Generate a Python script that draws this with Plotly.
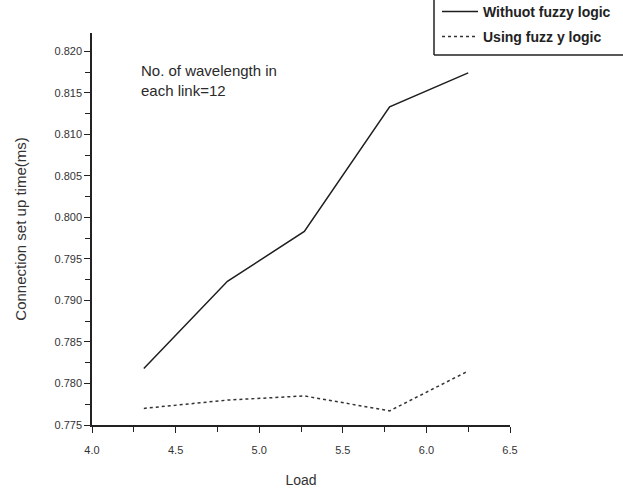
import plotly.graph_objects as go

load = [4.31, 4.81, 5.27, 5.78, 6.25]
without_fuzzy = [0.7818, 0.7923, 0.7983, 0.8133, 0.8174]
using_fuzzy = [0.7770, 0.7780, 0.7785, 0.7767, 0.7815]

x_ticks = [4.0, 4.5, 5.0, 5.5, 6.0, 6.5]
y_ticks = [0.775, 0.780, 0.785, 0.790, 0.795, 0.800, 0.805, 0.810, 0.815, 0.820]

fig = go.Figure()
fig.add_trace(go.Scatter(x=load, y=without_fuzzy, mode="lines", name="<b>Withuot fuzzy logic</b>",
                         line=dict(color="#1e1e1e", width=1.5), legend="legend"))
fig.add_trace(go.Scatter(x=load, y=using_fuzzy, mode="lines", name="<b>Using fuzz y logic</b>",
                         line=dict(color="#333333", width=1.5, dash="dot"), legend="legend2"))

W, H = 623, 488
L, R, T, B = 92, 113, 33, 63
pw, ph = W - L - R, H - T - B

def px(xp):
    return (xp - L) / pw

def py(yp):
    return (H - B - yp) / ph

tickfont = dict(family="Liberation Sans, Arial", size=11, color="#333333")
legfont = dict(family="Liberation Sans, Arial", size=14, color="#222222")

fig.update_layout(
    width=W, height=H,
    margin=dict(l=L, r=R, t=T, b=B, autoexpand=False),
    paper_bgcolor="white", plot_bgcolor="white",
    showlegend=True,
    legend=dict(x=px(437), y=py(-4), xanchor="left", yanchor="top", itemwidth=36,
                bgcolor="rgba(0,0,0,0)", borderwidth=0, font=legfont),
    legend2=dict(x=px(437), y=py(21), xanchor="left", yanchor="top", itemwidth=36,
                 bgcolor="rgba(0,0,0,0)", borderwidth=0, font=legfont),
    xaxis=dict(range=[4.0, 6.5], tickvals=x_ticks, ticktext=[f"{v:.1f}" for v in x_ticks],
               showgrid=False, zeroline=False, showline=True, linecolor="#222", linewidth=1.5,
               ticks="outside", ticklen=6, tickwidth=1.2, tickcolor="#222", tickfont=tickfont,
               ticklabelstandoff=8, automargin=False,
               minor=dict(dtick=0.25, tick0=4.0, ticks="outside", ticklen=5, tickcolor="#222", showgrid=False),
               title=dict(text="Load", font=dict(family="Liberation Sans, Arial", size=14, color="#333"),
                          standoff=20)),
    yaxis=dict(range=[0.775, 0.8222], tickvals=y_ticks, ticktext=[f"{v:.3f}" for v in y_ticks],
               showgrid=False, zeroline=False, showline=True, linecolor="#222", linewidth=1.5,
               ticks="outside", ticklen=6, tickwidth=1.2, tickcolor="#222", tickfont=tickfont,
               automargin=False,
               minor=dict(dtick=0.0025, tick0=0.775, ticks="outside", ticklen=5, tickcolor="#222", showgrid=False),
               title=dict(text="Connection set up time(ms)",
                          font=dict(family="Liberation Sans, Arial", size=15, color="#333"),
                          standoff=24)),
    annotations=[dict(text="No. of wavelength in<br>each link=12", xref="paper", yref="paper",
                      x=px(139), y=py(60), xanchor="left", yanchor="top", showarrow=False, align="left",
                      font=dict(family="Liberation Sans, Arial", size=15, color="#2a2a2a"))],
    shapes=[
        dict(type="line", xref="paper", yref="paper", x0=px(434), x1=px(434), y0=py(0), y1=py(55),
             line=dict(color="#222", width=1.5)),
        dict(type="line", xref="paper", yref="paper", x0=px(434), x1=px(623), y0=py(55), y1=py(55),
             line=dict(color="#222", width=1.5)),
    ],
)

fig.write_html("out.html")
